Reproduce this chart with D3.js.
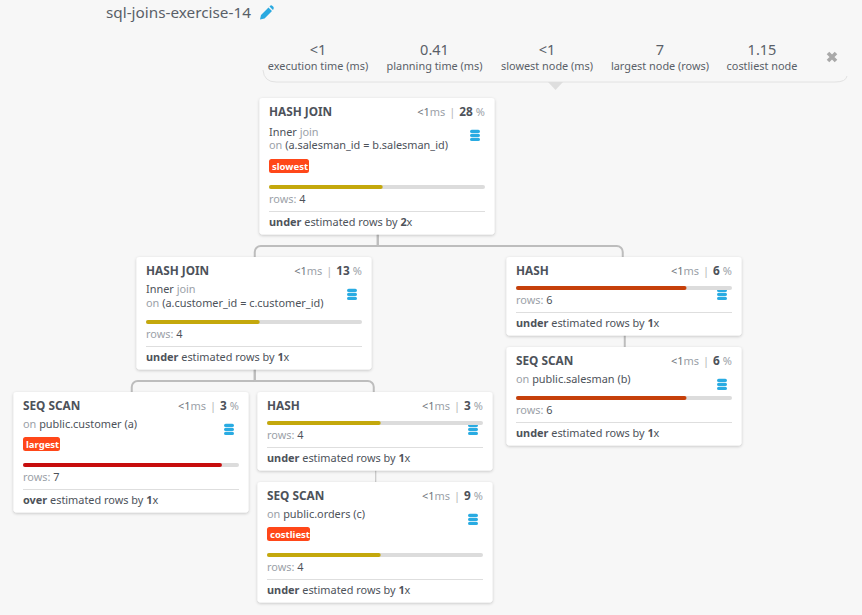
<!DOCTYPE html>
<html>
<head>
<meta charset="utf-8">
<script src="https://cdn.jsdelivr.net/npm/d3@7"></script>
<style>
  html, body { margin: 0; padding: 0; background: #f7f7f7; }
  svg { display: block; font-family: "Noto Sans", "Open Sans", sans-serif; }
</style>
</head>
<body>
<svg id="plan" width="862" height="615"></svg>
<script>
// Query summary
const planTitle = "sql-joins-exercise-14";
const summaryValues = ["<1", "0.41", "<1", "7", "1.15"];
const summaryLabels = ["execution time (ms)", "planning time (ms)", "slowest node (ms)", "largest node (rows)", "costliest node"];

// Plan nodes, same order in every array
const nodeTypes = ["HASH JOIN", "HASH JOIN", "HASH", "SEQ SCAN", "SEQ SCAN", "HASH", "SEQ SCAN"];
const nodeParents = [null, 0, 0, 2, 1, 1, 5];
const nodeMs = ["<1", "<1", "<1", "<1", "<1", "<1", "<1"];
const nodePercents = [28, 13, 6, 6, 3, 3, 9];
const nodeRows = [4, 4, 6, 6, 7, 4, 4];
const nodeEstimates = ["under", "under", "under", "under", "over", "under", "under"];
const nodeFactors = [2, 1, 1, 1, 1, 1, 1];
const nodeBadges = ["slowest", null, null, null, "largest", null, "costliest"];
const nodeJoinTypes = ["Inner", "Inner", null, null, null, null, null];
const nodeConditions = ["(a.salesman_id = b.salesman_id)", "(a.customer_id = c.customer_id)", null, null, null, null, null];
const nodeRelations = [null, null, null, "public.salesman (b)", "public.customer (a)", null, "public.orders (c)"];

// Where the boxes sit on the page
const boxLeft = [259.5, 136.5, 506.5, 506.5, 13.5, 257.5, 257.5];
const boxTop = [98, 257, 257, 347, 392, 392, 482];
const boxWidth = 235;
const barPad = 9.5;
const barWidth = 216;

const textColor = "#4d525a";
const mutedColor = "#9ba1a8";
const rowColor = d3.scaleThreshold().domain([5, 7]).range(["#c4a80c", "#c6400a", "#c70d0d"]);

const svg = d3.select("#plan");
const barScale = d3.scaleLinear().domain([0, 7.6]).range([0, barWidth]);

const defs = svg.append("defs");
defs.append("filter").attr("id", "card").attr("x", "-5%").attr("y", "-5%").attr("width", "110%").attr("height", "115%")
  .append("feDropShadow").attr("dx", 0).attr("dy", 1).attr("stdDeviation", 1.5)
  .attr("flood-color", "#000").attr("flood-opacity", 0.22);

// --- HEADER ---
svg.append("text").attr("x", 106).attr("y", 18)
  .attr("font-size", 15.3).attr("fill", "#5a5f68").text(planTitle);

// pencil
svg.append("path")
  .attr("d", "M260,19.5 L261,15 L268.5,7.5 L272,11 L264.5,18.5 Z M269.5,6.5 L270.5,5.5 Q271.5,5 272.5,6 L273.5,7 Q274,8 273.5,9 L273,10 Z")
  .attr("fill", "#2aa9e0");

// summary panel
svg.append("path")
  .attr("d", "M263,70 Q264,82 276,82 L835,82 Q846,82 847,76")
  .attr("fill", "none").attr("stroke", "#e2e2e2").attr("stroke-width", 1);
svg.append("path").attr("d", "M548,82 L563,82 L555.5,90 Z").attr("fill", "#dedede");

const summaryX = d3.scaleOrdinal().domain(summaryLabels).range([318, 434.5, 547, 660, 762]);
const summary = svg.append("g").selectAll("g").data(summaryLabels).join("g")
  .attr("transform", d => `translate(${summaryX(d)},0)`);
summary.append("text").attr("y", 55).attr("text-anchor", "middle")
  .attr("font-size", 14.5).attr("fill", "#5a5f68")
  .text((d, i) => summaryValues[i]);
summary.append("text").attr("y", 70).attr("text-anchor", "middle")
  .attr("font-size", 10.9).attr("fill", "#5a5f68")
  .text(d => d);

// close button
svg.append("path").attr("d", "M828,53 L836,61 M836,53 L828,61")
  .attr("stroke", "#a9a9a9").attr("stroke-width", 3.6);

// --- NODE DATA ---
const nodes = nodeTypes.map((type, i) => {
  const lines = (nodeConditions[i] ? 2 : 0) + (nodeRelations[i] ? 1 : 0);
  // bar offset from the box top depends on what is stacked above it
  let barY = lines === 2 ? 65 : lines === 1 ? 51 : 31;
  if (nodeBadges[i]) barY += lines === 2 ? 24 : 22;
  return {
    id: i, type, parent: nodeParents[i], x: boxLeft[i], y: boxTop[i], barY,
    height: barY + 47.5, ms: nodeMs[i], pct: nodePercents[i], rows: nodeRows[i],
    estimate: nodeEstimates[i], factor: nodeFactors[i], badge: nodeBadges[i],
    join: nodeJoinTypes[i], condition: nodeConditions[i], relation: nodeRelations[i]
  };
});

// --- LINKS ---
const linkLayer = svg.append("g").attr("fill", "none").attr("stroke", "#bdbdbd");

function linkPath(d) {
  const p = nodes[d.parent];
  const x0 = p.x + boxWidth / 2 + 0.75, y0 = p.y + p.height;
  let x1 = d.x + boxWidth / 2 + 0.75;
  const y1 = d.y;
  const path = d3.path();
  path.moveTo(x0, y0);
  if (Math.abs(x0 - x1) < 2) {
    path.lineTo(x1, y1);
  } else {
    // right hand branches land a little inside the child's centre
    if (x1 > x0) x1 -= 2;
    const midY = y1 - 11;
    path.lineTo(x0, midY);
    path.arcTo(x1, midY, x1, y1, 6);
    path.lineTo(x1, y1);
  }
  return path.toString();
}

linkLayer.selectAll("path").data(nodes.filter(d => d.parent !== null)).join("path")
  .attr("stroke-width", d => d.id === 6 ? 1 : 2)
  .attr("d", linkPath);

// --- BOXES ---
const box = svg.append("g").selectAll("g").data(nodes).join("g")
  .attr("transform", d => `translate(${d.x},${d.y})`);

box.append("rect").attr("width", boxWidth).attr("height", d => d.height).attr("rx", 3)
  .attr("fill", "#fff").attr("filter", "url(#card)");

box.append("text").attr("x", barPad).attr("y", 18)
  .attr("font-size", 11.8).attr("font-weight", 700).attr("fill", textColor).text(d => d.type);

// ms | percent
const cost = box.append("text").attr("x", barPad + barWidth).attr("y", 18)
  .attr("text-anchor", "end").attr("font-size", 11);
cost.append("tspan").attr("fill", "#6f747b").text(d => d.ms);
cost.append("tspan").attr("fill", mutedColor).text("ms");
cost.append("tspan").attr("fill", "#b5b5b5").attr("dx", 4).text("|");
cost.append("tspan").attr("fill", textColor).attr("font-weight", 700).attr("font-size", 11.8).attr("dx", 4).text(d => d.pct);
cost.append("tspan").attr("fill", mutedColor).attr("dx", 3).text("%");

// Inner join / on (...)
const joinText = box.filter(d => d.join).append("text").attr("x", barPad)
  .attr("y", d => d.badge ? 37.5 : 36).attr("font-size", 10.9);
joinText.append("tspan").attr("fill", textColor).text(d => d.join);
joinText.append("tspan").attr("fill", mutedColor).text(" join");

const condText = box.filter(d => d.condition).append("text").attr("x", barPad)
  .attr("y", d => d.badge ? 51 : 49.5).attr("font-size", 10.9);
condText.append("tspan").attr("fill", mutedColor).text("on ");
condText.append("tspan").attr("fill", textColor).text(d => d.condition);

const relText = box.filter(d => d.relation).append("text").attr("x", barPad).attr("y", 36).attr("font-size", 10.9);
relText.append("tspan").attr("fill", mutedColor).text("on ");
relText.append("tspan").attr("fill", textColor).text(d => d.relation);

// database icon
const icon = box.append("g").attr("transform", `translate(${boxWidth - 19.5},37.5)`).attr("fill", "#29abe2");
[-5.8, -1.8, 2.2].forEach(dy => {
  icon.append("rect").attr("x", -5).attr("y", dy).attr("width", 10).attr("height", 3.4).attr("rx", 1.7);
});

// badge
const badge = box.filter(d => d.badge).append("g")
  .attr("transform", d => `translate(${barPad},${d.barY - 28})`);
badge.append("rect").attr("width", d => d.badge === "slowest" ? 40 : d.badge === "largest" ? 37 : 43)
  .attr("height", 14).attr("rx", 2.5).attr("fill", "#ff4719");
badge.append("text").attr("x", 3).attr("y", 10.5).attr("font-size", 9.5).attr("font-weight", 700)
  .attr("fill", "#fff").text(d => d.badge);

// rows bar
box.append("rect").attr("x", barPad).attr("y", d => d.barY - 2).attr("width", barWidth).attr("height", 4)
  .attr("rx", 2).attr("fill", "#dcdcdc");
box.append("rect").attr("x", barPad).attr("y", d => d.barY - 2).attr("width", d => barScale(d.rows)).attr("height", 4)
  .attr("rx", 2).attr("fill", d => rowColor(d.rows));

const rowsText = box.append("text").attr("x", barPad).attr("y", d => d.barY + 15.5).attr("font-size", 10.9);
rowsText.append("tspan").attr("fill", mutedColor).text("rows: ");
rowsText.append("tspan").attr("fill", textColor).text(d => d.rows);

box.append("line").attr("x1", barPad).attr("x2", barPad + barWidth)
  .attr("y1", d => d.barY + 24.5).attr("y2", d => d.barY + 24.5).attr("stroke", "#dedede");

const estText = box.append("text").attr("x", barPad).attr("y", d => d.barY + 38.5).attr("font-size", 10.9).attr("fill", textColor);
estText.append("tspan").attr("font-weight", 700).text(d => d.estimate);
estText.append("tspan").text(" estimated rows by ");
estText.append("tspan").attr("font-weight", 700).text(d => d.factor);
estText.append("tspan").text("x");
</script>
</body>
</html>
